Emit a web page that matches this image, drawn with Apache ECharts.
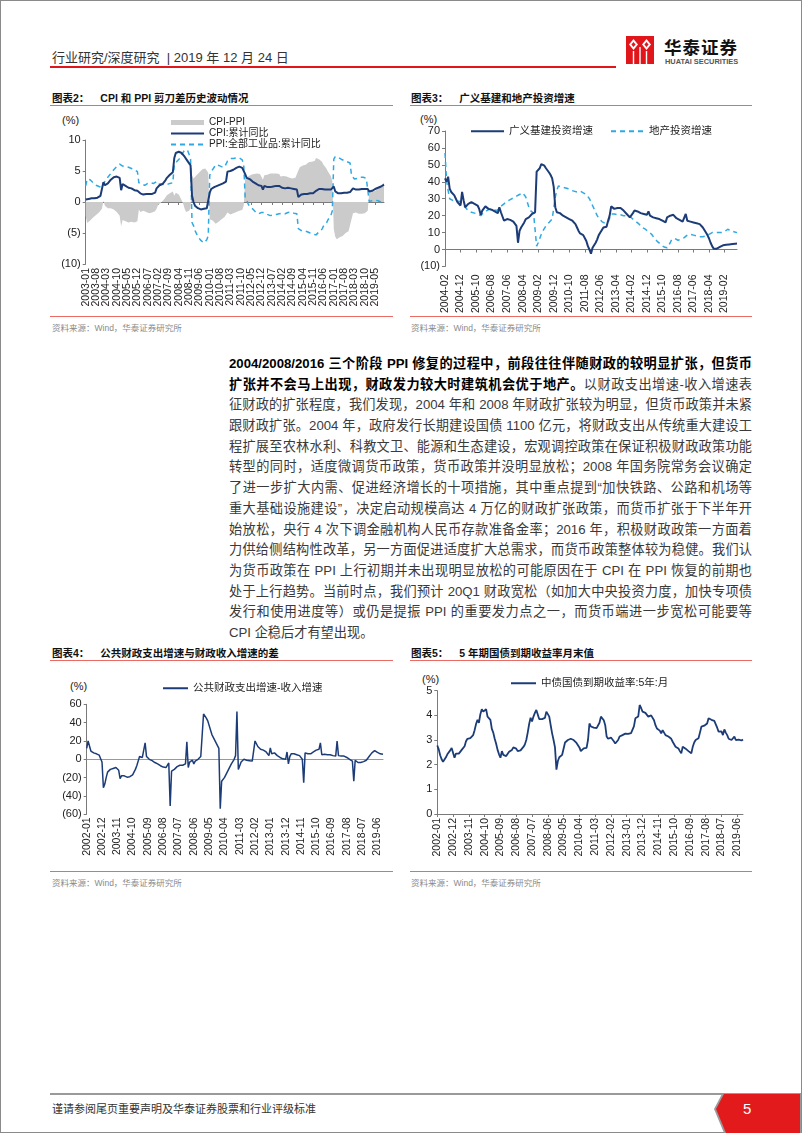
<!DOCTYPE html>
<html><head><meta charset="utf-8">
<script src="https://cdn.jsdelivr.net/npm/echarts/dist/echarts.min.js"></script>
<style>
html,body{margin:0;padding:0;background:#fff;}
body{width:802px;height:1133px;position:relative;overflow:hidden;font-family:"Liberation Sans",Arial,"Noto Sans CJK SC",sans-serif;color:#333;}
.abs{position:absolute;}
.border{left:0;top:0;width:802px;height:1133px;box-sizing:border-box;border:1px solid #8a8a8a;}
.title{font-size:10.5px;font-weight:bold;color:#111;white-space:nowrap;line-height:14px;}
.title span{margin-left:11px;}
.redline{height:1px;background:#ec6a64;}
.src{font-size:8.5px;color:#8a8a8a;white-space:nowrap;line-height:10px;}
.unit{font-size:11px;color:#222;line-height:12px;}
.para{left:229px;top:354px;width:523px;font-size:13.2px;font-family:"Liberation Sans","Noto Sans CJK SC",sans-serif;color:#3a3a3a;}
.para div{height:20.7px;line-height:20.7px;text-align:justify;text-align-last:justify;overflow:hidden;}
.para div.last{text-align-last:left;}
.para b{color:#000;}
</style></head><body>
<div class="abs border"></div>
<div class="abs" style="left:52px;top:50px;font-size:13px;line-height:15px;color:#333;white-space:nowrap;">行业研究/深度研究 &nbsp;| 2019 年 12 月 24 日</div>
<div class="abs" style="left:50px;top:66px;width:566px;height:1.5px;background:#e0161b;"></div>
<svg class="abs" style="left:626px;top:36px" width="28" height="28" viewBox="0 0 28 28">
<rect x="0" y="0" width="28" height="28" fill="#e0161b"/>
<polygon points="7.5,3 12,8.5 7.5,14 3,8.5" fill="#fff"/>
<polygon points="20.5,3 25,8.5 20.5,14 16,8.5" fill="#fff"/>
<polygon points="7.5,6 9.6,8.5 7.5,11 5.4,8.5" fill="#e0161b"/>
<polygon points="20.5,6 22.6,8.5 20.5,11 18.4,8.5" fill="#e0161b"/>
<rect x="6.8" y="15" width="1.4" height="13" fill="#fff"/>
<rect x="13.3" y="11" width="1.4" height="17" fill="#fff"/>
<rect x="19.8" y="15" width="1.4" height="13" fill="#fff"/>
</svg>
<div class="abs" style="left:664px;top:37px;font-size:17.5px;font-weight:bold;color:#111;line-height:20px;letter-spacing:1px;font-family:'Noto Sans CJK SC',sans-serif;">华泰证券</div>
<div class="abs" style="left:665px;top:58px;font-size:7.4px;font-weight:bold;color:#555;line-height:8px;white-space:nowrap;">HUATAI SECURITIES</div>

<!-- Chart 2 -->
<div class="abs title" style="left:52px;top:91px;">图表2：<span>CPI 和 PPI 剪刀差历史波动情况</span></div>
<div class="abs redline" style="left:50px;top:105px;width:343px;"></div>
<div class="abs unit" style="left:62px;top:114px;">(%)</div>
<div id="c2" class="abs" style="left:40px;top:108px;width:360px;height:208px;"></div>
<div class="abs redline" style="left:50px;top:316px;width:343px;"></div>
<div class="abs src" style="left:52px;top:323px;">资料来源：Wind，华泰证券研究所</div>

<!-- Chart 3 -->
<div class="abs title" style="left:411px;top:91px;">图表3：<span>广义基建和地产投资增速</span></div>
<div class="abs redline" style="left:410px;top:105px;width:342px;"></div>
<div class="abs unit" style="left:420px;top:113px;">(%)</div>
<div id="c3" class="abs" style="left:405px;top:108px;width:370px;height:208px;"></div>
<div class="abs redline" style="left:410px;top:316px;width:342px;"></div>
<div class="abs src" style="left:411px;top:323px;">资料来源：Wind，华泰证券研究所</div>

<div class="abs para">
<div><b>2004/2008/2016 三个阶段 PPI 修复的过程中，前段往往伴随财政的较明显扩张，但货币</b></div>
<div><b>扩张并不会马上出现，财政发力较大时建筑机会优于地产。</b>以财政支出增速-收入增速表</div>
<div>征财政的扩张程度，我们发现，2004 年和 2008 年财政扩张较为明显，但货币政策并未紧</div>
<div>跟财政扩张。2004 年，政府发行长期建设国债 1100 亿元，将财政支出从传统重大建设工</div>
<div>程扩展至农林水利、科教文卫、能源和生态建设，宏观调控政策在保证积极财政政策功能</div>
<div>转型的同时，适度微调货币政策，货币政策并没明显放松；2008 年国务院常务会议确定</div>
<div>了进一步扩大内需、促进经济增长的十项措施，其中重点提到“加快铁路、公路和机场等</div>
<div>重大基础设施建设”，决定启动规模高达 4 万亿的财政扩张政策，而货币扩张于下半年开</div>
<div>始放松，央行 4 次下调金融机构人民币存款准备金率；2016 年，积极财政政策一方面着</div>
<div>力供给侧结构性改革，另一方面促进适度扩大总需求，而货币政策整体较为稳健。我们认</div>
<div>为货币政策在 PPI 上行初期并未出现明显放松的可能原因在于 CPI 在 PPI 恢复的前期也</div>
<div>处于上行趋势。当前时点，我们预计 20Q1 财政宽松（如加大中央投资力度，加快专项债</div>
<div>发行和使用进度等）或仍是提振 PPI 的重要发力点之一，而货币端进一步宽松可能要等</div>
<div class="last">CPI 企稳后才有望出现。</div>
</div>

<!-- Chart 4 -->
<div class="abs title" style="left:52px;top:646px;">图表4：<span>公共财政支出增速与财政收入增速的差</span></div>
<div class="abs redline" style="left:50px;top:660px;width:343px;"></div>
<div class="abs unit" style="left:70px;top:680px;">(%)</div>
<div id="c4" class="abs" style="left:40px;top:663px;width:360px;height:208px;"></div>
<div class="abs redline" style="left:50px;top:871px;width:343px;"></div>
<div class="abs src" style="left:52px;top:878px;">资料来源：Wind，华泰证券研究所</div>

<!-- Chart 5 -->
<div class="abs title" style="left:411px;top:646px;">图表5：<span>5 年期国债到期收益率月末值</span></div>
<div class="abs redline" style="left:410px;top:660px;width:342px;"></div>
<div class="abs unit" style="left:422px;top:673px;">(%)</div>
<div id="c5" class="abs" style="left:405px;top:663px;width:370px;height:208px;"></div>
<div class="abs redline" style="left:410px;top:871px;width:342px;"></div>
<div class="abs src" style="left:411px;top:878px;">资料来源：Wind，华泰证券研究所</div>

<!-- Footer -->
<div class="abs" style="left:50px;top:1093px;width:751px;height:2px;background:#9a9a9a;"></div>
<div class="abs" style="left:52px;top:1102px;font-size:11px;line-height:13px;color:#333;white-space:nowrap;font-family:'Noto Sans CJK SC',sans-serif;">谨请参阅尾页重要声明及华泰证券股票和行业评级标准</div>
<svg class="abs" style="left:712px;top:1094px" width="90" height="39" viewBox="0 0 90 39">
<polygon points="10,0 89,0 89,39 12,39 2,15" fill="#9a9a9a"/>
<polygon points="12,0 88,0 88,39 14,39 4,15" fill="#e31a1c"/>
</svg>
<div class="abs" style="left:743px;top:1100px;font-size:15px;line-height:17px;color:#fff;">5</div>

<script>
// ---------- Data ----------
// 图表2: CPI / PPI cumulative YoY (%), monthly from 2003-01
const cpiCum = [
 0.4,0.3,0.5,0.6,0.6,0.6,0.6,0.6,0.7,0.8,1.0,1.2,
 3.2,2.7,2.8,3.0,3.3,3.6,3.8,4.0,4.1,4.1,4.0,3.9,
 1.9,2.9,2.8,2.6,2.5,2.3,2.3,2.2,2.0,1.9,1.9,1.8,
 1.9,1.4,1.2,1.2,1.2,1.3,1.3,1.3,1.3,1.3,1.4,1.5,
 2.2,2.4,2.7,2.8,2.9,3.2,3.5,3.9,4.1,4.4,4.6,4.8,
 7.1,7.9,8.0,8.1,8.1,7.9,7.7,7.3,7.0,6.6,6.3,5.9,
 1.0,0.0,-0.6,-0.8,-1.0,-1.1,-1.2,-1.2,-1.1,-1.1,-1.0,-0.7,
 1.5,2.1,2.2,2.4,2.5,2.6,2.7,2.8,2.9,3.0,3.2,3.3,
 4.9,4.9,5.0,5.1,5.2,5.4,5.5,5.6,5.7,5.7,5.5,5.4,
 4.5,3.9,3.8,3.7,3.5,3.3,3.1,3.0,2.8,2.7,2.7,2.6,
 2.0,2.6,2.4,2.4,2.4,2.4,2.5,2.5,2.5,2.6,2.6,2.6,
 2.5,2.3,2.3,2.2,2.3,2.3,2.3,2.2,2.1,2.1,2.0,2.0,
 0.8,1.1,1.2,1.3,1.3,1.3,1.3,1.4,1.4,1.4,1.4,1.4,
 1.8,2.1,2.1,2.2,2.1,2.1,2.0,2.0,2.0,2.0,2.0,2.0,
 2.5,1.7,1.4,1.4,1.4,1.4,1.4,1.5,1.5,1.5,1.6,1.6,
 1.5,2.2,2.1,2.0,2.0,2.0,2.0,2.1,2.1,2.1,2.1,2.1,
 1.7,1.6,1.8,2.0,2.1,2.2,2.3,2.4,2.5,2.6,2.8
];
const ppiCum = [
 2.6,3.7,4.0,3.6,3.3,3.1,2.9,2.7,2.6,2.5,2.4,2.3,
 3.0,3.3,3.6,4.0,4.3,4.6,4.9,5.2,5.5,5.7,5.9,6.1,
 5.8,5.8,5.7,5.7,5.7,5.6,5.5,5.4,5.3,5.2,5.1,4.9,
 3.1,3.0,2.9,2.6,2.7,2.9,3.0,3.1,3.1,3.0,3.0,3.0,
 3.3,2.9,2.9,2.9,2.8,2.8,2.8,2.8,2.8,3.0,3.3,3.1,
 6.1,6.4,6.6,6.9,7.1,7.6,8.0,8.4,8.6,8.3,7.7,6.9,
 -3.3,-3.8,-4.6,-5.1,-5.6,-5.9,-6.2,-6.5,-6.6,-6.5,-6.1,-5.4,
 4.3,4.9,5.2,5.6,6.0,6.0,5.9,5.8,5.7,5.6,5.6,5.5,
 6.6,6.8,7.0,7.0,7.0,7.0,7.1,7.1,7.1,7.0,6.8,6.0,
 0.7,0.3,-0.3,-0.7,-0.9,-1.1,-1.4,-1.6,-1.8,-1.9,-1.8,-1.7,
 -1.6,-1.7,-1.8,-2.0,-2.2,-2.2,-2.2,-2.1,-2.0,-2.0,-1.9,-1.9,
 -1.6,-1.8,-1.9,-1.9,-1.8,-1.7,-1.6,-1.6,-1.7,-1.8,-1.9,-1.9,
 -4.3,-4.5,-4.6,-4.6,-4.6,-4.7,-4.8,-5.0,-5.0,-5.1,-5.2,-5.2,
 -5.3,-5.1,-4.8,-4.6,-4.4,-3.9,-3.8,-3.4,-2.9,-2.6,-2.2,-1.4,
 6.9,7.3,7.4,7.2,7.1,6.9,6.9,6.7,6.5,6.5,6.3,6.3,
 4.3,4.0,3.7,3.7,3.8,3.9,4.0,4.0,4.0,3.9,3.8,3.5,
 0.1,0.1,0.2,0.3,0.3,0.3,0.2,0.1,0.0,-0.1,-0.3
];
const cpiPpiGap = [
 -2.2,-3.4,-3.5,-3.0,-2.7,-2.5,-2.3,-2.1,-1.9,-1.7,-1.4,-1.1,
 0.2,-0.6,-0.8,-1.0,-1.0,-1.0,-1.1,-1.2,-1.4,-1.6,-1.9,-2.2,
 -3.9,-2.9,-2.9,-3.1,-3.2,-3.3,-3.2,-3.2,-3.3,-3.3,-3.2,-3.1,
 -1.2,-1.6,-1.7,-1.4,-1.5,-1.6,-1.7,-1.8,-1.8,-1.7,-1.6,-1.5,
 -1.1,-0.5,-0.2,-0.1,0.1,0.4,0.7,1.1,1.3,1.4,1.3,1.7,
 1.0,1.5,1.4,1.2,1.0,0.3,-0.3,-1.1,-1.6,-1.7,-1.4,-1.0,
 4.3,3.8,4.0,4.3,4.6,4.8,5.0,5.3,5.5,5.4,5.1,4.7,
 -2.8,-2.8,-3.0,-3.2,-3.5,-3.4,-3.2,-3.0,-2.8,-2.6,-2.4,-2.2,
 -1.7,-1.9,-2.0,-1.9,-1.8,-1.6,-1.6,-1.5,-1.4,-1.3,-1.3,-0.6,
 3.8,3.6,4.1,4.4,4.4,4.4,4.5,4.6,4.6,4.6,4.5,4.3,
 3.6,4.3,4.2,4.4,4.6,4.6,4.7,4.6,4.5,4.6,4.5,4.5,
 4.1,4.1,4.2,4.1,4.1,4.0,3.9,3.8,3.8,3.9,3.9,3.9,
 5.1,5.6,5.8,5.9,5.9,6.0,6.1,6.4,6.4,6.5,6.6,6.6,
 7.1,7.2,6.9,6.8,6.5,6.0,5.8,5.4,4.9,4.6,4.2,3.4,
 -4.4,-5.6,-6.0,-5.8,-5.7,-5.5,-5.5,-5.2,-5.0,-5.0,-4.7,-4.7,
 -2.8,-1.8,-1.6,-1.7,-1.8,-1.9,-2.0,-1.9,-1.9,-1.8,-1.7,-1.4,
 1.6,1.5,1.6,1.7,1.8,1.9,2.1,2.3,2.5,2.7,3.1
];

// 图表3: 广义基建投资增速 / 地产投资增速 (%), monthly from 2004-02
const infraGrowth = [
 42,40,43,36,34,33,32,30,28,27,26,
 34,29,25,26,27,28,28,27.5,27,26.5,26,24,
 20.5,23,24,25.5,24.5,24,23.5,23.5,23,22.5,22,21.5,
 25,22,19.5,17,18,18,17.5,17.5,17,16.5,16,14,
 4,11,13,14,16,18,18.5,19,20,21,20.5,22,
 46,45,48,50.5,51,49.5,48,47,45.5,44,42,37,
 25,22,22,21.5,21,20,19.5,19,18.5,18,17,17,
 16,15,13,11,9.5,9,8.5,7.5,5,2,0,-2.5,
 1,2.5,4,6,8.5,10,11,13,14,13.5,17,20,
 25.5,24.5,24,24,24.5,24,24.5,23.5,23,22,21,20,
 19,20,21.5,23,23,22.5,22,21.5,21,21,20.5,20.5,
 22.5,20,19.5,19,19,18.5,18.5,18,17.5,17,16.5,16,
 19,19.5,20,20,20.5,19.5,18.5,18,17.5,17,16.5,16,
 21,17,16.5,16.5,16,16,16,15.5,15,15,14.5,13,
 11.5,10,8.5,6.5,4,2,0.5,0,0.5,1,1.5,2,
 2.5,2.7,2.8,3,3,3.1,3.2,3.3,3.4,3.5
];
const propertyGrowth = [
 57,41,35,30,29,29,29,28.5,28.5,28.5,28,
 27.5,26.5,25,24,23,22.5,22,21.5,21.5,21,21,20.5,
 20,21,22,22.5,23,23.5,24,24,24,23.5,23,22,
 24,25.5,26,27,27.5,28.5,29,29.5,30,30.5,31,31.5,
 32,32.5,33,33.5,33,31,28,25,23,22,21.5,21,
 2,4,6.5,9,11,12.5,14,15,16,17,18,18,
 31,35,37.5,37.5,37,37,36.5,36,36,35.5,35,34.5,
 34.5,34,34,34.5,34.5,34,33.5,33,32.5,31.5,30,28,
 26,24,22,20,18.5,17.5,16.5,16,15.5,15.5,16,16.5,
 21,21,21,21,20.5,20.5,20.5,20.5,20,20,20,19.8,
 19.5,19,18,17,16.5,16,15,14,13,12.5,12,11,
 10.5,10,9,8,6.5,5.5,4.5,3.5,3,2.5,1.5,1,
 1,1.5,4,6,7,6.5,6,5.5,5.5,6,6.5,7,
 8,8.5,9,9,9,8.5,8.5,8,8,7.5,7.5,7.5,
 7.5,8,8.5,9,9.5,10,10,10,10,10,10,10,
 10,10.5,11.5,12,11.5,11,11,10.5,10.5,10
];

// 图表4: 公共财政支出增速-收入增速 (%), monthly from 2002-01
const fiscalGap = [
 12,20,18,9,8,7,6.5,6,5.5,4.5,3.5,-3,
 -31,-27,-20,-14,-12,-11,-10.5,-10,-9.5,-9,-10.5,-12,
 -21,-18,-17.5,-18,-19,-19.5,-19,-19,-19,-17,-14,-11,
 -7,-2,3,2.5,2,1.5,18,3,1,0,-1,-1.5,
 -2.5,-3.5,-4.5,-5,-6,-7,-8,-8.5,-9,-9,-8,-4,
 -51,-13,-12,-11,-10,-8,-7,-6.5,-6,-6.5,-6,-5,
 19,-9,-3,-4,-1,-5,-2,-1,0,2,3,5,
 49.5,48,45,42,37,32,27,24,21,18,16,12,
 -54,-24,-22,-20,-17,-14,-11,-8,-5,-3,0,4,
 52,-11,-7,-3,-1,0,0,-1,-1,-1.5,-2,-2,
 -3.5,20,18,14,12,11,10.5,10,9,8,6,4,
 12.5,6,5,7,5,4,3,2,1,0.5,0,0,
 8,-5,3,6,6.5,6,5.5,5,5,4,2,0,
 -25.5,7,5,6,5,6,7,8,9,10,11,11,
 18,5,6,5.5,5,5,6,5,4,4,3.5,3.5,
 20,4,3,3.5,3,3.5,3,2,1,0,-1,-2,
 -24,-1,-3,-3.5,-4,-3.5,-3,-2.5,-2,-1,1,3,
 5,7,9,9.5,8.5,7.5,7,6,5.5,5.5
];

// 图表5: 中债国债到期收益率:5年 (%), month-end from 2002-01
const cgb5yYield = [
 2.78,2.62,2.38,2.22,2.12,2.18,2.30,2.42,2.45,2.58,2.68,2.66,
 2.28,2.45,2.48,2.45,2.52,2.60,2.68,2.75,2.95,3.05,3.02,3.08,
 3.15,3.20,3.40,3.65,3.82,3.70,4.05,4.25,4.15,4.18,4.25,3.95,
 3.90,3.82,3.45,3.30,3.05,2.85,2.60,2.42,2.28,2.55,2.40,2.32,
 2.35,2.40,2.52,2.48,2.60,2.70,2.78,2.65,2.55,2.52,2.58,2.62,
 2.72,2.82,3.00,3.30,3.65,3.90,3.75,3.95,4.10,4.22,4.15,3.85,
 3.80,3.85,3.82,3.90,4.15,4.22,3.95,3.60,3.27,3.00,2.70,1.80,
 2.15,2.30,2.35,2.40,2.38,2.90,2.93,3.00,3.07,3.05,3.02,3.00,
 2.95,2.88,2.80,2.70,2.55,2.60,2.66,2.62,2.68,3.00,3.67,3.55,
 3.55,3.50,3.52,3.48,3.55,3.70,3.95,4.00,3.80,3.60,3.14,3.05,
 3.00,3.10,3.14,2.95,2.86,2.90,3.00,3.14,3.18,3.20,3.22,3.26,
 3.27,3.25,3.22,3.28,3.34,3.55,3.88,3.92,3.95,4.42,4.30,4.15,
 4.15,4.10,4.05,3.95,3.98,4.00,3.92,3.80,3.60,3.47,3.50,3.38,
 3.27,3.40,3.30,3.20,3.22,3.14,3.10,3.05,2.93,2.85,2.73,2.70,
 2.66,2.55,2.46,2.73,2.70,2.65,2.60,2.55,2.50,2.46,2.73,2.90,
 3.00,3.05,3.07,3.30,3.54,3.55,3.58,3.60,3.67,3.88,3.85,3.82,
 3.80,3.78,3.74,3.50,3.34,3.40,3.35,3.20,3.43,3.30,3.20,3.05,
 3.00,3.00,3.00,3.14,3.00,3.05,3.02,3.00,2.98,3.02
];

// Series names
const names2 = ['CPI-PPI', 'CPI:累计同比', 'PPI:全部工业品:累计同比'];
const names3 = ['广义基建投资增速', '地产投资增速'];
const name4 = '公共财政支出增速-收入增速';
const name5 = '中债国债到期收益率:5年:月';

// Category labels (year-month)
function monthRange(y, m, n) {
  const out = [];
  for (let i = 0; i < n; i++) {
    out.push(y + '-' + (m < 10 ? '0' + m : '' + m));
    m++; if (m > 12) { m = 1; y++; }
  }
  return out;
}
const months2 = monthRange(2003, 1, cpiCum.length);
const months3 = monthRange(2004, 2, infraGrowth.length);
const months4 = monthRange(2002, 1, fiscalGap.length);
const months5 = monthRange(2002, 1, cgb5yYield.length);

// ---------- Styling ----------
const FONT = '"Liberation Sans", Arial, "Noto Sans CJK SC", sans-serif';
const NAVY = '#1c3c78';
const CYAN = '#2fa9e3';
const GREY_AREA = '#cbcbcb';
const AXIS = '#7a7a7a';
const LABEL = '#222';
const paren = v => v < 0 ? '(' + (-v) + ')' : '' + v;
const HIDE_SYMBOL = { opacity: 0 };

function yAxisCfg(min, max, interval) {
  return {
    type: 'value', min, max, interval,
    splitLine: { show: false },
    axisLine: { show: true, lineStyle: { color: AXIS, width: 1 } },
    axisTick: { show: true, length: 3, lineStyle: { color: AXIS } },
    axisLabel: { formatter: paren, fontSize: 11, color: LABEL, margin: 5, fontFamily: FONT }
  };
}
function labelAxis(data, interval, margin, extra) {
  return Object.assign({
    type: 'category', data, boundaryGap: false, position: 'bottom',
    axisLabel: { interval, rotate: 90, fontSize: 10.5, color: LABEL, margin, fontFamily: FONT }
  }, extra);
}

// ---------- Chart 2 ----------
const c2 = echarts.init(document.getElementById('c2'));
c2.setOption({
  animation: false,
  textStyle: { fontFamily: FONT },
  grid: { left: 45.7, right: 16, top: 32, bottom: 52 },
  legend: {
    orient: 'vertical', left: 125, top: 4, itemWidth: 33, itemHeight: 5, itemGap: 0,
    textStyle: { fontSize: 10, color: LABEL, lineHeight: 11 },
    itemStyle: HIDE_SYMBOL,
    data: [{ name: names2[0], icon: 'rect', itemStyle: { opacity: 1, color: GREY_AREA } }, names2[1], names2[2]]
  },
  xAxis: [
    labelAxis(months2, 6, 4, { axisLine: { show: true, onZero: true, lineStyle: { color: AXIS } },
      axisTick: { show: true, interval: 6, length: 3, lineStyle: { color: AXIS } },
      axisLabel: { show: false } }),
    labelAxis(months2, 6, 4, { axisLine: { show: false, onZero: false }, axisTick: { show: false } })
  ],
  yAxis: yAxisCfg(-10, 10, 5),
  series: [
    { name: names2[0], type: 'line', data: cpiPpiGap, symbol: 'none', z: 1,
      itemStyle: { color: GREY_AREA }, lineStyle: { width: 0 },
      areaStyle: { color: GREY_AREA, opacity: 1 } },
    { name: names2[1], type: 'line', data: cpiCum, symbol: 'none', z: 3,
      itemStyle: { color: NAVY }, lineStyle: { color: NAVY, width: 2 } },
    { name: names2[2], type: 'line', data: ppiCum, symbol: 'none', z: 2,
      itemStyle: { color: CYAN }, lineStyle: { color: CYAN, width: 1.5, type: [5, 4] } }
  ]
});

// ---------- Chart 3 ----------
const c3 = echarts.init(document.getElementById('c3'));
c3.setOption({
  animation: false,
  textStyle: { fontFamily: FONT },
  grid: { left: 40, right: 38, top: 23, bottom: 32 },
  legend: {
    left: 60, top: 13, itemWidth: 33, itemHeight: 12, itemGap: 17,
    textStyle: { fontSize: 10.5, color: LABEL },
    itemStyle: HIDE_SYMBOL,
    data: names3
  },
  xAxis: labelAxis(months3, 9, 8, {
    axisLine: { show: true, onZero: true, lineStyle: { color: AXIS } },
    axisTick: { show: true, interval: 9, length: 3, lineStyle: { color: AXIS } }
  }),
  yAxis: yAxisCfg(-10, 70, 10),
  series: [
    { name: names3[0], type: 'line', data: infraGrowth, symbol: 'none', z: 3,
      itemStyle: { color: NAVY }, lineStyle: { color: NAVY, width: 2 } },
    { name: names3[1], type: 'line', data: propertyGrowth, symbol: 'none', z: 2,
      itemStyle: { color: CYAN }, lineStyle: { color: CYAN, width: 1.5, type: [5, 4] } }
  ]
});

// ---------- Chart 4 ----------
const c4 = echarts.init(document.getElementById('c4'));
c4.setOption({
  animation: false,
  textStyle: { fontFamily: FONT },
  grid: { left: 46.7, right: 17, top: 41.3, bottom: 56.7 },
  legend: {
    left: 117, top: 15, itemWidth: 25, itemHeight: 12,
    textStyle: { fontSize: 10.5, color: LABEL },
    itemStyle: HIDE_SYMBOL,
    data: [name4]
  },
  xAxis: [
    labelAxis(months4, 10, 3, { axisLine: { show: true, onZero: true, lineStyle: { color: '#999' } },
      axisTick: { show: false }, axisLabel: { show: false } }),
    labelAxis(months4, 10, 3, { axisLine: { show: false, onZero: false }, axisTick: { show: false } })
  ],
  yAxis: yAxisCfg(-60, 60, 20),
  series: [
    { name: name4, type: 'line', data: fiscalGap, symbol: 'none',
      itemStyle: { color: NAVY }, lineStyle: { color: NAVY, width: 1.5 } }
  ]
});

// ---------- Chart 5 ----------
const c5 = echarts.init(document.getElementById('c5'));
c5.setOption({
  animation: false,
  textStyle: { fontFamily: FONT },
  grid: { left: 32.3, right: 32, top: 27.7, bottom: 57 },
  legend: {
    left: 100, top: 10, itemWidth: 25, itemHeight: 12,
    textStyle: { fontSize: 10.5, color: LABEL },
    itemStyle: HIDE_SYMBOL,
    data: [name5]
  },
  xAxis: labelAxis(months5, 10, 4, {
    axisLine: { show: true, lineStyle: { color: AXIS } },
    axisTick: { show: true, interval: 10, length: 3, lineStyle: { color: AXIS } }
  }),
  yAxis: yAxisCfg(0, 5, 1),
  series: [
    { name: name5, type: 'line', data: cgb5yYield, symbol: 'none',
      itemStyle: { color: NAVY }, lineStyle: { color: NAVY, width: 1.8 } }
  ]
});
</script>
</body></html>
